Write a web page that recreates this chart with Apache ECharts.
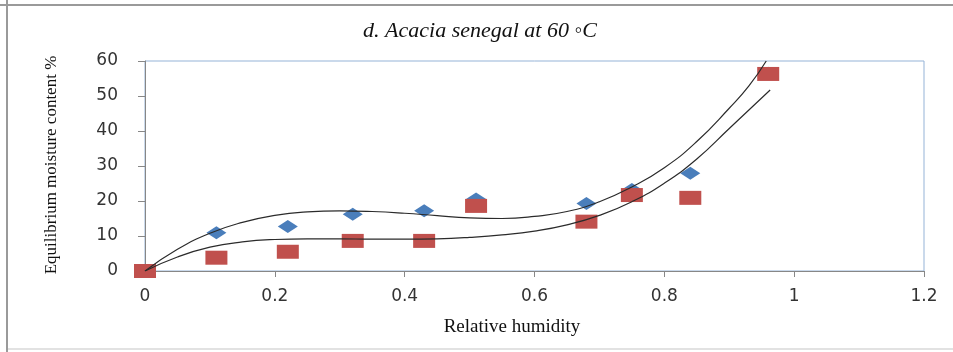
<!DOCTYPE html>
<html>
<head>
<meta charset="utf-8">
<script src="https://cdn.jsdelivr.net/npm/echarts@6/dist/echarts.min.js"></script>
<style>
html,body{margin:0;padding:0;background:#fff;}
#c{width:953px;height:352px;}
</style>
</head>
<body>
<div id="c"></div>
<script>
// ---- data ----
var chartTitle = 'd. Acacia senegal at 60 \u25E6C';
var xAxisTitle = 'Relative humidity';
var yAxisTitle = 'Equilibrium moisture content %';
var xTickLabels = ['0', '0.2', '0.4', '0.6', '0.8', '1', '1.2'];
var yTickLabels = ['0', '10', '20', '30', '40', '50', '60'];

var rh = [0, 0.11, 0.22, 0.32, 0.43, 0.51, 0.68, 0.75, 0.84, 0.96];
var blueEMC = [0, 10.9, 12.7, 16.2, 17.2, 20.6, 19.3, 23.3, 27.9, 56.5];
var redEMC = [0, 3.8, 5.5, 8.6, 8.6, 18.6, 14.1, 21.7, 20.9, 56.3];

// trend lines
var upperX = [0, 0.05, 0.1, 0.15, 0.2, 0.25, 0.3, 0.35, 0.4, 0.45, 0.5, 0.55, 0.6, 0.65, 0.7, 0.75, 0.8, 0.85, 0.9, 0.93, 0.957];
var upperY = [0, 6.2, 10.8, 13.9, 15.9, 16.9, 17.2, 17.0, 16.5, 15.8, 15.2, 15.0, 15.6, 17.0, 19.8, 24.0, 29.5, 37.0, 46.5, 52.8, 60];
var lowerX = [0, 0.05, 0.1, 0.15, 0.2, 0.25, 0.3, 0.35, 0.4, 0.45, 0.5, 0.55, 0.6, 0.65, 0.7, 0.75, 0.8, 0.85, 0.9, 0.963];
var lowerY = [0, 4.0, 6.8, 8.3, 9.0, 9.2, 9.2, 9.1, 9.1, 9.2, 9.6, 10.3, 11.4, 13.2, 15.9, 19.8, 25.1, 32.0, 40.7, 51.7];

function pairs(xs, ys) { return xs.map(function (x, i) { return [x, ys[i]]; }); }

var chart = echarts.init(document.getElementById('c'), null, {renderer: 'canvas'});
var axisGray = '#878787';
var labelStyle = {color: '#333333', fontFamily: 'DejaVu Sans', fontSize: 17};

chart.setOption({
  animation: false,
  backgroundColor: '#ffffff',
  grid: {left: 145, right: 29, top: 61, bottom: 81, show: true, borderColor: '#95B3D7', borderWidth: 1, backgroundColor: 'transparent'},
  xAxis: {
    type: 'value', min: 0, max: 1.2, interval: 0.2,
    axisLine: {show: true, onZero: false, lineStyle: {color: axisGray, width: 1}},
    axisTick: {show: true, inside: false, length: 6, lineStyle: {color: axisGray}},
    splitLine: {show: false},
    axisLabel: Object.assign({margin: 17, formatter: function (v) { return xTickLabels[Math.round(v / 0.2)]; }}, labelStyle)
  },
  yAxis: {
    type: 'value', min: 0, max: 60, interval: 10,
    axisLine: {show: true, onZero: false, lineStyle: {color: axisGray, width: 1}},
    axisTick: {show: true, inside: false, length: 7, lineStyle: {color: axisGray}},
    splitLine: {show: false},
    axisLabel: Object.assign({margin: 27, formatter: function (v) { return yTickLabels[Math.round(v / 10)]; }}, labelStyle)
  },
  graphic: [
    {type: 'line', shape: {x1: 7, y1: 0, x2: 7, y2: 352}, style: {stroke: '#9a9a9a', lineWidth: 2}},
    {type: 'line', shape: {x1: 0, y1: 5, x2: 953, y2: 5}, style: {stroke: '#9a9a9a', lineWidth: 2}},
    {type: 'line', shape: {x1: 8, y1: 349, x2: 953, y2: 349}, style: {stroke: '#e2e2e2', lineWidth: 2}},
    {type: 'text', x: 480, y: 31, style: {text: chartTitle, font: 'italic 22px "Liberation Serif"', fill: '#111', textAlign: 'center', textVerticalAlign: 'middle'}},
    {type: 'text', x: 512, y: 327, style: {text: xAxisTitle, font: '19px "Liberation Serif"', fill: '#111', textAlign: 'center', textVerticalAlign: 'middle'}},
    {type: 'text', x: 52, y: 165, rotation: Math.PI / 2, style: {text: yAxisTitle, font: '17px "Liberation Serif"', fill: '#111', textAlign: 'center', textVerticalAlign: 'middle'}}
  ],
  series: [
    {type: 'scatter', name: 'blue', data: pairs(rh, blueEMC), symbol: 'diamond', symbolSize: [20, 13], itemStyle: {color: '#4A7EBB', opacity: 1}, z: 2},
    {type: 'scatter', name: 'red', data: pairs(rh, redEMC), symbol: 'rect', symbolSize: [22, 14], itemStyle: {color: '#C0504D', opacity: 1}, z: 3},
    {type: 'line', name: 'upper fit', data: pairs(upperX, upperY), smooth: 0.5, showSymbol: false, symbol: 'none', lineStyle: {color: '#2b2b2b', width: 1.2}, z: 4},
    {type: 'line', name: 'lower fit', data: pairs(lowerX, lowerY), smooth: 0.5, showSymbol: false, symbol: 'none', lineStyle: {color: '#2b2b2b', width: 1.2}, z: 4}
  ]
});
</script>
</body>
</html>
